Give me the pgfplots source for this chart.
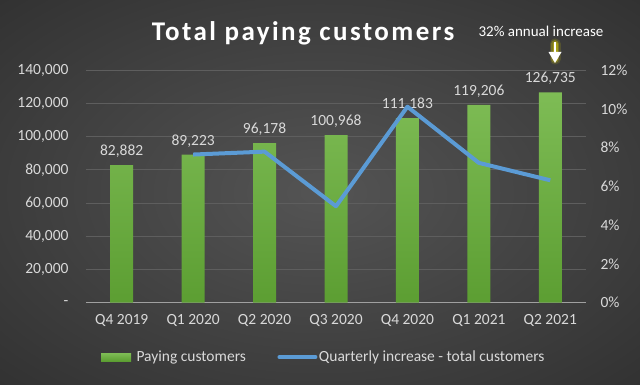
\documentclass[border=0pt]{standalone}
\usepackage{fontspec}
\setmainfont{Carlito}
\newfontfamily\titlefont[LetterSpace=9]{Carlito}
\usepackage{pgfplots}
\pgfplotsset{compat=1.18}
\definecolor{bgin}{HTML}{545454}
\definecolor{bgout}{HTML}{242424}
\definecolor{gridc}{HTML}{5E5E5E}
\definecolor{axc}{HTML}{A0A0A0}
\definecolor{labc}{HTML}{D9D9D9}
\definecolor{bartop}{HTML}{7EBC55}
\definecolor{barbot}{HTML}{5C9E32}
\definecolor{linec}{HTML}{5B9BD5}
\pgfdeclareradialshading{bgshade}{\pgfpoint{0bp}{0bp}}{color(0bp)=(bgin); color(50bp)=(bgout)}
\begin{document}
\begin{tikzpicture}[x=1pt,y=1pt]
\shade[shading=bgshade] (0,0) rectangle (640,385);
\begin{axis}[
  at={(86pt,82.3pt)}, anchor=south west, scale only axis,
  width=500pt, height=232.4pt,
  xmin=-0.5, xmax=6.5, ymin=0, ymax=140000,
  scaled y ticks=false,
  xtick={0,...,6},
  xticklabels={Q4 2019,Q1 2020,Q2 2020,Q3 2020,Q4 2020,Q1 2021,Q2 2021},
  ytick={0,20000,40000,60000,80000,100000,120000,140000},
  yticklabels={-,{20,000},{40,000},{60,000},{80,000},{100,000},{120,000},{140,000}},
  axis x line*=bottom, axis y line*=left,
  x axis line style={draw=axc, line width=1.5pt, -},
  y axis line style={draw=none},
  major tick length=0pt,
  ymajorgrids, grid style={draw=gridc, line width=0.9pt},
  tick label style={font=\fontsize{15.5}{18}\selectfont, text=labc},
  xticklabel shift=8pt, yticklabel shift=14pt,
  clip=false,
]
\addplot[ybar, bar width=23pt, draw=none, top color=bartop, bottom color=barbot,
  nodes near coords, point meta=explicit symbolic,
  nodes near coords style={text=labc, font=\fontsize{15.5}{18}\selectfont, anchor=south, yshift=4pt}]
  coordinates {(0,82882)[82,882] (1,89223)[89,223] (2,96178)[96,178] (3,100968)[100,968]
               (4,111183)[111,183] (5,119206)[119,206] (6,126735)[126,735]};
\end{axis}
\begin{axis}[
  at={(86pt,82.3pt)}, anchor=south west, scale only axis,
  width=500pt, height=232.4pt,
  xmin=-0.5, xmax=6.5, ymin=0, ymax=12,
  axis x line=none, axis y line*=right,
  y axis line style={draw=none},
  ytick={0,2,4,6,8,10,12},
  yticklabels={0\%,2\%,4\%,6\%,8\%,10\%,12\%},
  major tick length=0pt,
  tick label style={font=\fontsize{15.5}{18}\selectfont, text=labc},
  yticklabel shift=11pt,
  clip=false,
  legend style={at={(0.475,-0.234)}, anchor=center, draw=none, fill=none,
    legend columns=2, font=\fontsize{15.5}{18}\selectfont, text=labc,
    /tikz/every even column/.append style={column sep=30pt},
    nodes={inner sep=1.5pt}},
]
\addlegendimage{legend image code/.code={\shade[draw=none, top color=bartop, bottom color=barbot] (0pt,-4pt) rectangle (30pt,4pt);}}
\addlegendentry{\hspace{4pt}Paying customers}
\addplot[color=linec, line width=4pt, line join=round,
  legend image code/.code={\draw[linec, line width=4pt, line cap=round] (0pt,0pt) -- (36pt,0pt);}]
  coordinates {(1,7.65) (2,7.80) (3,4.98) (4,10.12) (5,7.22) (6,6.32)};
\addlegendentry{Quarterly increase - total customers}
\end{axis}
\node[font=\titlefont\bfseries\fontsize{27}{32}\selectfont, text=white] at (303,352) {Total paying customers};
\node[font=\fontsize{15}{17}\selectfont, text=white] at (541,354) {32\% annual increase};
\foreach \w/\o in {11/0.15,8/0.25,5/0.4}{
  \draw[color=yellow!80!olive, line width=\w pt, opacity=\o, line cap=round] (555,341) -- (555,326);
}
\draw[white, line width=1.3pt] (555,343) -- (555,331);
\fill[white] (548.5,333) -- (561.5,333) -- (555,322) -- cycle;
\pgfresetboundingbox
\path (0,0) rectangle (640,385);
\end{tikzpicture}
\end{document}
